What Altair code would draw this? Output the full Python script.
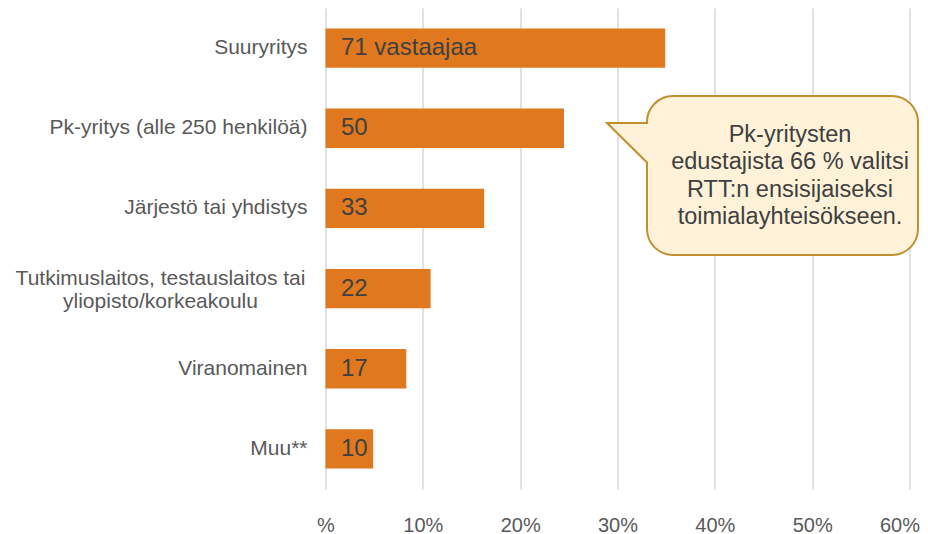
import altair as alt
import pandas as pd

categories = [
    "Suuryritys",
    "Pk-yritys (alle 250 henkilöä)",
    "Järjestö tai yhdistys",
    "Tutkimuslaitos, testauslaitos tai\nyliopisto/korkeakoulu",
    "Viranomainen",
    "Muu**",
]
shares = [34.9, 24.5, 16.3, 10.8, 8.3, 4.9]
bar_labels = ["71 vastaajaa", "50", "33", "22", "17", "10"]
x_ticks = [0, 10, 20, 30, 40, 50, 60]
callout_lines = [
    "Pk-yritysten",
    "edustajista 66 % valitsi",
    "RTT:n ensisijaiseksi",
    "toimialayhteisökseen.",
]

FONT = "Liberation Sans"
BAR = "#E0781F"
AXIS_TXT = "#595959"
DARK_TXT = "#404040"

df = pd.DataFrame({"category": categories, "share": shares, "label": bar_labels})
df["multi"] = df["category"].str.contains("\n")

W, H = 584, 481

y_enc = alt.Y(
    "category:N",
    sort=categories,
    scale=alt.Scale(paddingInner=0.51, paddingOuter=0.255),
    axis=None,
)
x_enc = alt.X(
    "share:Q",
    scale=alt.Scale(domain=[0, 60], nice=False, zero=True),
    axis=alt.Axis(
        values=x_ticks,
        labelExpr="datum.value == 0 ? '%' : datum.value + '%'",
        title=None,
        domain=False,
        ticks=False,
        grid=True,
        gridColor="#D9D9D9",
        gridWidth=1.5,
        labelFont=FONT,
        labelFontSize=20,
        labelColor=AXIS_TXT,
        labelPadding=26,
        labelFlush=False,
        labelAlign={"condition": {"test": "datum.value == 60", "value": "right"}, "value": "center"},
        labelOffset={"condition": {"test": "datum.value == 60", "value": 10}, "value": 0},
    ),
)

base = alt.Chart(df)

bars = base.mark_bar(color=BAR).encode(x=x_enc, y=y_enc)

bar_text = base.mark_text(
    align="left", baseline="middle", font=FONT, fontSize=24, color=DARK_TXT
).encode(x=alt.value(15.5), y=y_enc, text="label:N")

cat_single = base.transform_filter("!datum.multi").mark_text(
    align="right", baseline="middle", font=FONT, fontSize=21, color=AXIS_TXT
).encode(x=alt.value(-18), y=y_enc, text="category:N")

cat_multi = base.transform_filter("datum.multi").mark_text(
    align="center", baseline="middle", font=FONT, fontSize=21, color=AXIS_TXT,
    lineBreak="\n", lineHeight=23, dy=-10,
).encode(x=alt.value(-165), y=y_enc, text="category:N")

bubble_path = (
    "M -109.5 -79.5 L 109.5 -79.5 A 26 26 0 0 1 135.5 -53.5 L 135.5 53.5 "
    "A 26 26 0 0 1 109.5 79.5 L -109.5 79.5 A 26 26 0 0 1 -135.5 53.5 "
    "L -135.5 -13 L -175.5 -52.5 L -135.5 -52.5 A 26 26 0 0 1 -109.5 -79.5 Z"
)
note_df = pd.DataFrame({"note": ["\n".join(callout_lines)]})
bubble = alt.Chart(note_df).mark_point(
    shape=bubble_path, size=4, filled=True, fill="#FFF2D9", stroke="#BF8F30",
    strokeWidth=2, opacity=1,
).encode(x=alt.value(457), y=alt.value(167.5))

bubble_text = alt.Chart(note_df).mark_text(
    align="center", baseline="middle", font=FONT, fontSize=23.5, color=DARK_TXT,
    lineBreak="\n", lineHeight=27.3,
).encode(x=alt.value(464.5), y=alt.value(127), text="note:N")

chart = (
    alt.layer(bars, bar_text, cat_single, cat_multi, bubble, bubble_text)
    .properties(
        width=W,
        height=H,
        padding={"left": 317.5, "top": 0, "right": 10.5, "bottom": 45},
        autosize=alt.AutoSizeParams(type="none"),
        background="white",
    )
    .configure_view(stroke=None)
)

chart.save("out.html", embed_options={"renderer": "svg", "actions": False})
